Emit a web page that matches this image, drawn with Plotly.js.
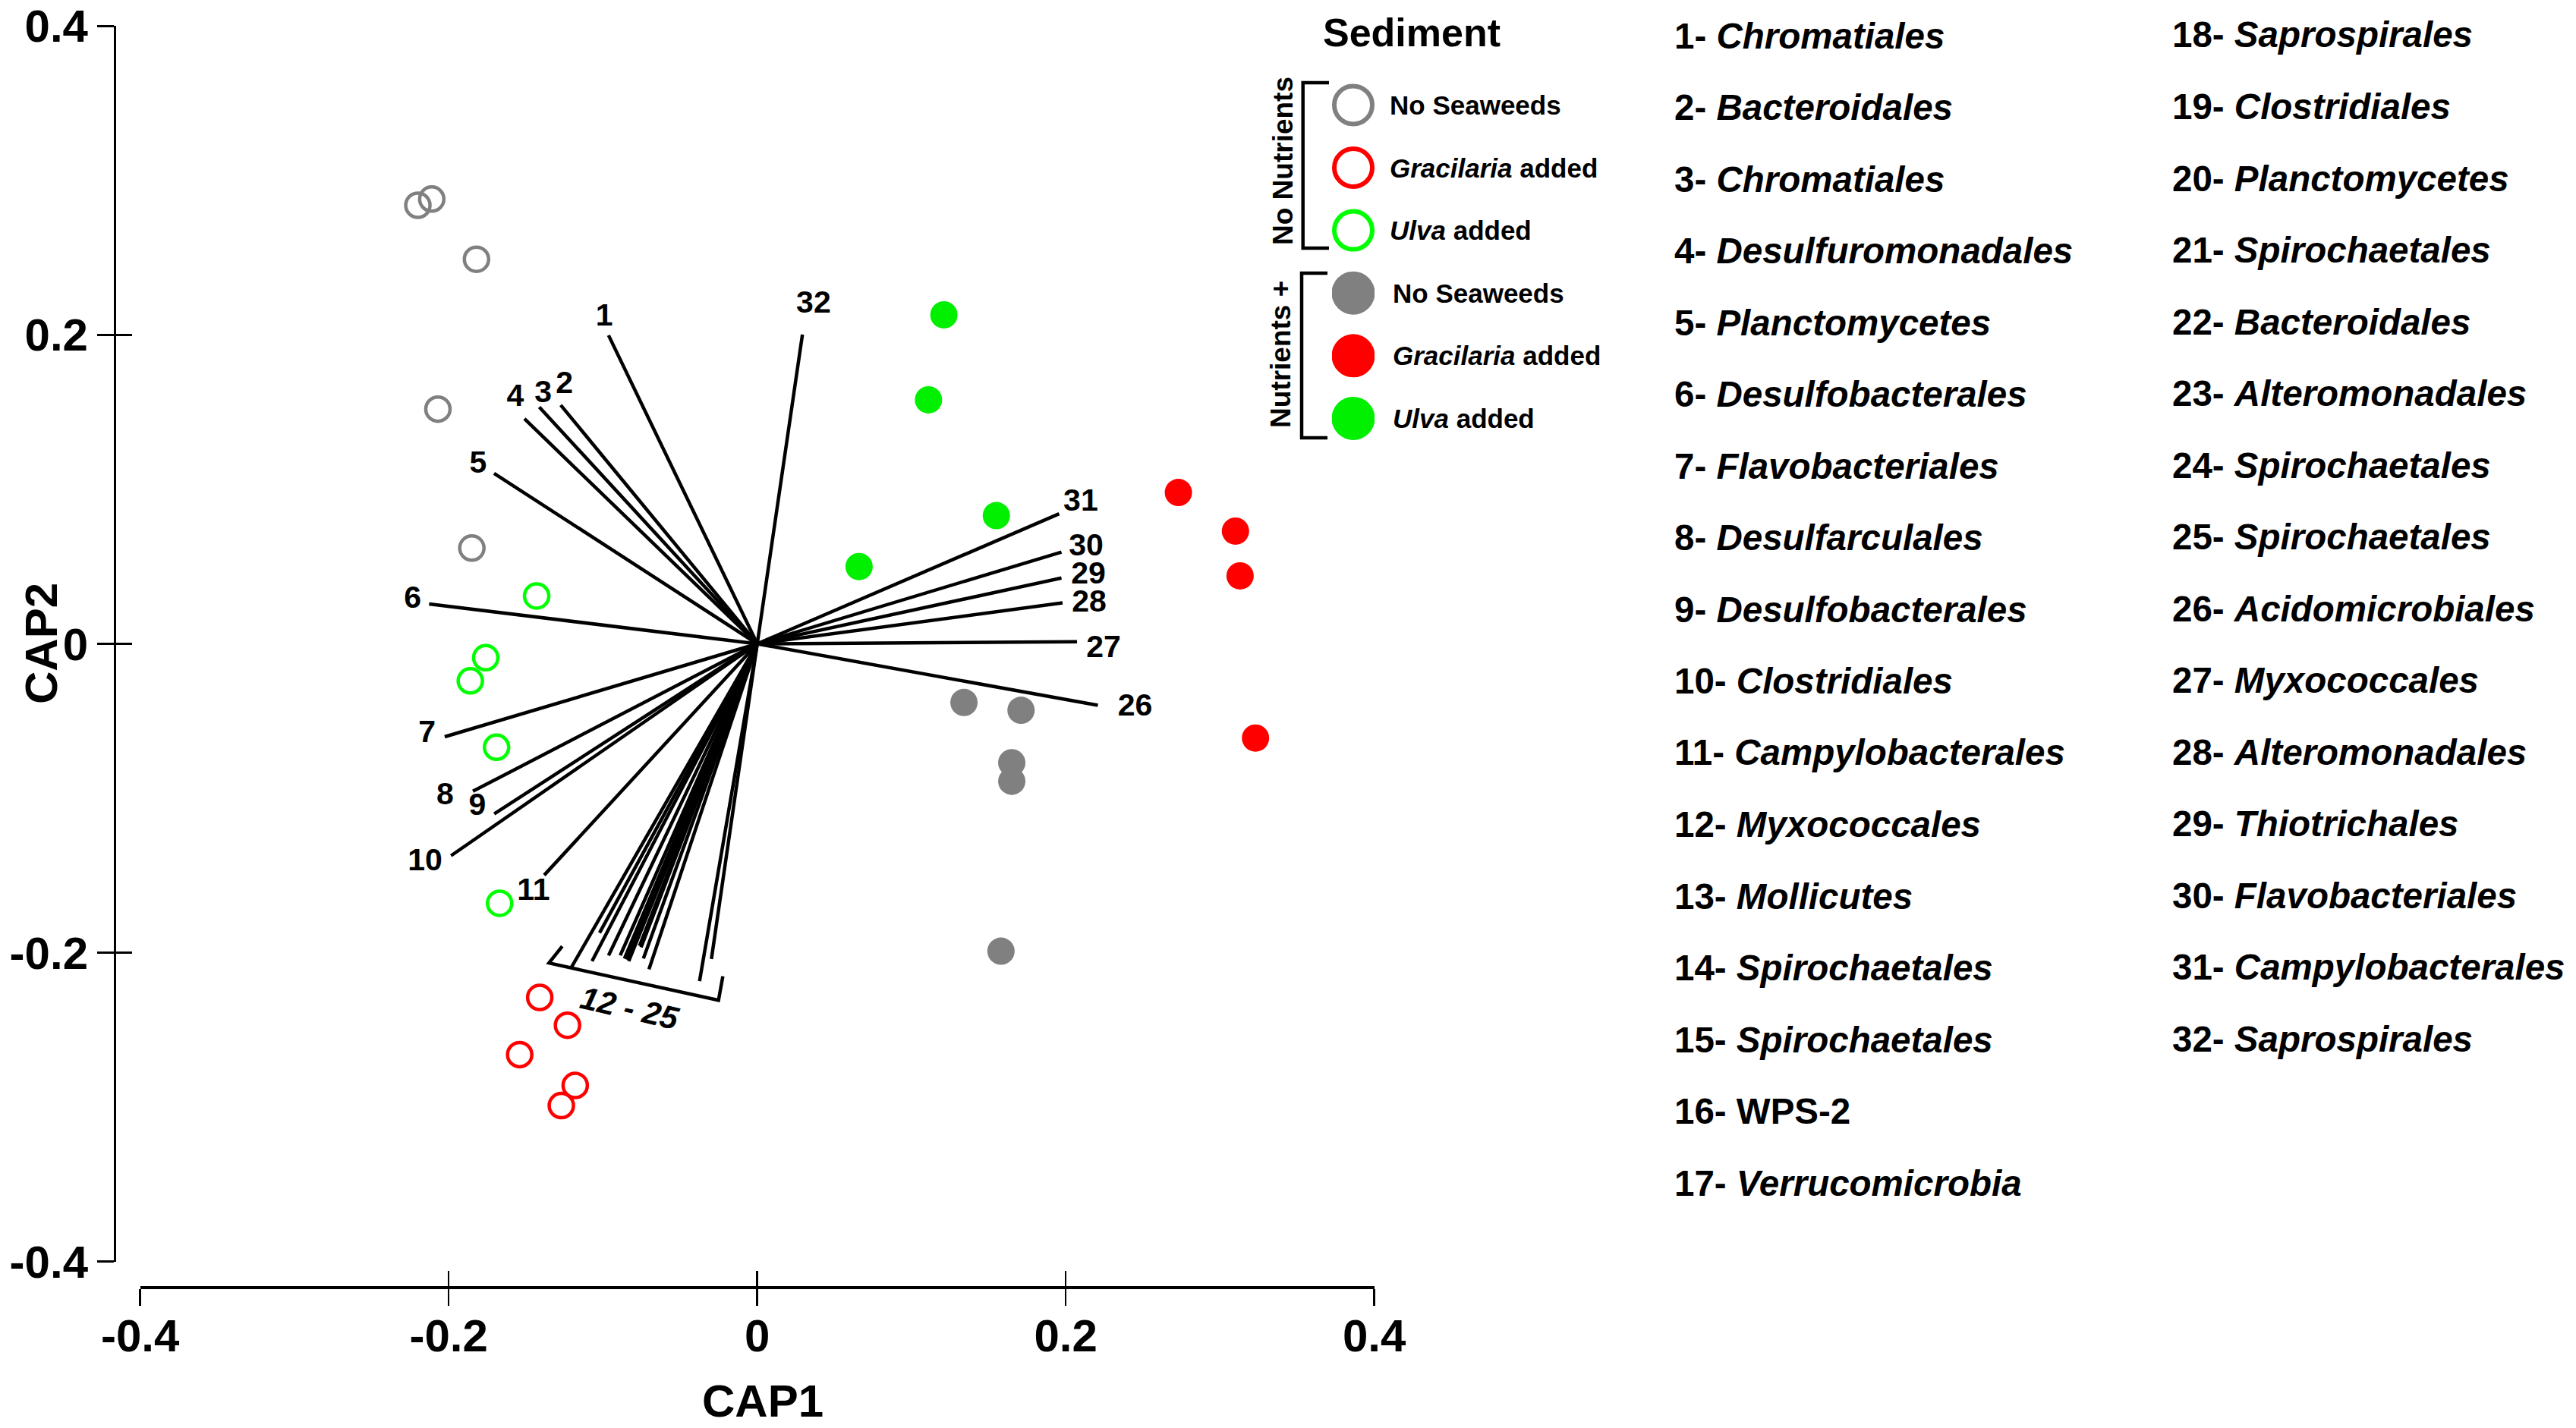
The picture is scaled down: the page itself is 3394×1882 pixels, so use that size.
<!DOCTYPE html>
<html><head><meta charset="utf-8">
<script src="https://cdn.plot.ly/plotly-3.0.1.min.js"></script>
<style>html,body{margin:0;padding:0;background:#fff}#chart{width:3394px;height:1882px}</style>
</head><body><div id="chart"></div>
<script>
// ---- sample scores (CAP1, CAP2) ----
const nnNoSeaweedX = [-0.220, -0.211, -0.182, -0.207, -0.185];
const nnNoSeaweedY = [0.284, 0.288, 0.249, 0.152, 0.062];
const nnGracX = [-0.141, -0.123, -0.154, -0.118, -0.127];
const nnGracY = [-0.229, -0.247, -0.266, -0.286, -0.299];
const nnUlvaX = [-0.143, -0.176, -0.186, -0.169, -0.167];
const nnUlvaY = [0.031, -0.009, -0.024, -0.067, -0.168];
const npNoSeaweedX = [0.134, 0.171, 0.165, 0.165, 0.158];
const npNoSeaweedY = [-0.038, -0.043, -0.077, -0.089, -0.199];
const npGracX = [0.273, 0.310, 0.313, 0.323];
const npGracY = [0.098, 0.073, 0.044, -0.061];
const npUlvaX = [0.121, 0.111, 0.155, 0.066];
const npUlvaY = [0.213, 0.158, 0.083, 0.050];

// ---- taxa vectors 1..32 (end points) ----
const vecX = [-0.0964, -0.1274, -0.1413, -0.1509, -0.1706, -0.2127, -0.2026, -0.1843, -0.1705, -0.1985, -0.1381,
  -0.1210, -0.1071, -0.1022, -0.0964, -0.0888, -0.0861, -0.0847, -0.0833, -0.0763, -0.0753, -0.0738, -0.0702, -0.0374, -0.0297,
  0.2208, 0.2073, 0.1979, 0.1972, 0.1972, 0.1957, 0.0293];
const vecY = [0.1998, 0.1546, 0.1533, 0.1457, 0.1104, 0.0258, -0.0602, -0.0955, -0.1101, -0.1372, -0.1498,
  -0.2104, -0.2055, -0.1871, -0.2018, -0.2018, -0.2038, -0.2045, -0.2055, -0.1956, -0.1965, -0.2038, -0.2108, -0.2185, -0.2041,
  -0.0398, 0.0013, 0.0265, 0.0426, 0.0594, 0.0842, 0.2003];

// ---- vector labels ----
const labText = ['1','2','3','4','5','6','7','8','9','10','11','26','27','28','29','30','31','32'];
const labX = [-0.0992, -0.1250, -0.1388, -0.1568, -0.1809, -0.2234, -0.2140, -0.2023, -0.1815, -0.2153, -0.1450,
  0.2449, 0.2245, 0.2152, 0.2147, 0.2132, 0.2097, 0.0365];
const labY = [0.2111, 0.1674, 0.1617, 0.1590, 0.1158, 0.0283, -0.0585, -0.0989, -0.1060, -0.1416, -0.1609,
  -0.0415, -0.0035, 0.0257, 0.0443, 0.0623, 0.0915, 0.2196];

// bracket for vectors 12-25
const bracketX = [-0.1264, -0.1350, -0.0251, -0.0223];
const bracketY = [-0.1959, -0.2067, -0.2308, -0.2153];
const bracketLabel = '12 - 25';
const bracketLabelX = -0.0829, bracketLabelY = -0.2356;

// ---- axes ----
const xTicks = [-0.4, -0.2, 0, 0.2, 0.4];
const xTickText = ['-0.4', '-0.2', '0', '0.2', '0.4'];
const yTicks = [-0.4, -0.2, 0, 0.2, 0.4];
const yTickText = ['-0.4', '-0.2', '0', '0.2', '0.4'];
const xTitle = 'CAP1', yTitle = 'CAP2';

// ---- legend ----
const legendTitle = 'Sediment';
const legendGroups = ['No Nutrients', 'Nutrients +'];
const legendLabels = ['No Seaweeds', '<i>Gracilaria</i> added', '<i>Ulva</i> added',
                      'No Seaweeds', '<i>Gracilaria</i> added', '<i>Ulva</i> added'];

// ---- taxa list ----
const taxaCol1 = ['Chromatiales','Bacteroidales','Chromatiales','Desulfuromonadales','Planctomycetes',
  'Desulfobacterales','Flavobacteriales','Desulfarculales','Desulfobacterales','Clostridiales',
  'Campylobacterales','Myxococcales','Mollicutes','Spirochaetales','Spirochaetales','WPS-2','Verrucomicrobia'];
const taxaCol2 = ['Saprospirales','Clostridiales','Planctomycetes','Spirochaetales','Bacteroidales',
  'Alteromonadales','Spirochaetales','Spirochaetales','Acidomicrobiales','Myxococcales','Alteromonadales',
  'Thiotrichales','Flavobacteriales','Campylobacterales','Saprospirales'];
const uprightTaxa = ['WPS-2'];

// ================= build =================
const W = 3394, H = 1882;
const FONT = 'Liberation Sans, Arial, Helvetica, sans-serif';
const GREY = '#808080', RED = '#ff0000', GREEN = '#00ff00', GREENF = '#00f000';
const px = v => v / W, py = v => 1 - v / H;

const vx = [], vy = [];
vecX.forEach((x, i) => { vx.push(0, x, null); vy.push(0, vecY[i], null); });

const openM = c => ({symbol: 'circle-open', size: 32, color: c, opacity: 1, line: {width: 4.5, color: c}});
const fillM = c => ({symbol: 'circle', size: 36, color: c, opacity: 1, line: {width: 0}});

const traces = [
  {type: 'scatter', mode: 'lines', x: vx, y: vy, line: {color: '#000', width: 4.5}, hoverinfo: 'skip', name: 'vectors'},
  {type: 'scatter', mode: 'lines', x: bracketX, y: bracketY, line: {color: '#000', width: 4.5}, hoverinfo: 'skip', name: 'bracket'},
  {type: 'scatter', mode: 'text', x: labX, y: labY, text: labText, textposition: 'middle center',
   textfont: {family: FONT, size: 41, color: '#000', weight: 'bold'}, hoverinfo: 'skip', name: 'labels'},
  {type: 'scatter', mode: 'markers', name: 'No Nutrients - No Seaweeds', x: nnNoSeaweedX, y: nnNoSeaweedY, marker: openM(GREY)},
  {type: 'scatter', mode: 'markers', name: 'No Nutrients - Gracilaria added', x: nnGracX, y: nnGracY, marker: openM(RED)},
  {type: 'scatter', mode: 'markers', name: 'No Nutrients - Ulva added', x: nnUlvaX, y: nnUlvaY, marker: openM(GREEN)},
  {type: 'scatter', mode: 'markers', name: 'Nutrients + - No Seaweeds', x: npNoSeaweedX, y: npNoSeaweedY, marker: fillM(GREY)},
  {type: 'scatter', mode: 'markers', name: 'Nutrients + - Gracilaria added', x: npGracX, y: npGracY, marker: fillM(RED)},
  {type: 'scatter', mode: 'markers', name: 'Nutrients + - Ulva added', x: npUlvaX, y: npUlvaY, marker: fillM(GREENF)},
  // overlay axes for inner half of crossing ticks
  {type: 'scatter', mode: 'markers', x: [], y: [], xaxis: 'x2', yaxis: 'y2', hoverinfo: 'skip', showlegend: false},
  // custom legend symbols
  {type: 'scatter', mode: 'markers', xaxis: 'x3', yaxis: 'y3', hoverinfo: 'skip',
   x: legendLabels.map(() => 0), y: legendLabels.map((_, i) => i),
   marker: {
     opacity: 1,
     symbol: ['circle-open','circle-open','circle-open','circle','circle','circle'],
     size: [50, 50, 50, 57, 57, 57],
     color: [GREY, RED, GREEN, GREY, RED, GREENF],
     line: {width: [6, 6, 6, 0, 0, 0], color: [GREY, RED, GREEN, GREY, RED, GREENF]}
   }}
];

const xPos = py(1697), yPos = px(151);
const tickFont = {family: FONT, size: 60, color: '#000', weight: 'bold'};
const common = {showgrid: false, zeroline: false, fixedrange: true, tickcolor: '#000', tickwidth: 2.5, ticklen: 22};

const annotations = [];
const ann = (o) => annotations.push(Object.assign({showarrow: false, font: {family: FONT, color: '#000', size: 42, weight: 'bold'}}, o));

ann({text: xTitle, xref: 'paper', yref: 'paper', x: px(1005), y: py(1846), xanchor: 'center', yanchor: 'middle',
     font: {family: FONT, size: 60, color: '#000', weight: 'bold'}});
ann({text: yTitle, xref: 'paper', yref: 'paper', x: px(54), y: py(848), xanchor: 'center', yanchor: 'middle', textangle: -90,
     font: {family: FONT, size: 60, color: '#000', weight: 'bold'}});
ann({text: '<i>' + bracketLabel + '</i>', xref: 'x', yref: 'y', x: bracketLabelX, y: bracketLabelY, textangle: 13,
     xanchor: 'center', yanchor: 'middle', font: {family: FONT, size: 42, color: '#000', weight: 'bold'}});

// legend text
ann({text: legendTitle, xref: 'paper', yref: 'paper', x: px(1860), y: py(43), xanchor: 'center', yanchor: 'middle',
     font: {family: FONT, size: 52, color: '#000', weight: 'bold'}});
const legTop = 138.4, legStep = 82.6;
legendLabels.forEach((t, i) => ann({text: t, xref: 'paper', yref: 'paper', x: px(i < 3 ? 1829 : 1833), y: py(legTop + i * legStep),
  xanchor: 'left', yanchor: 'middle', font: {family: FONT, size: 35, color: '#000', weight: 'bold'}}));
ann({text: legendGroups[0], xref: 'paper', yref: 'paper', x: px(1690), y: py(212), textangle: -90, xanchor: 'center', yanchor: 'middle',
     font: {family: FONT, size: 37, color: '#000', weight: 'bold'}});
ann({text: legendGroups[1], xref: 'paper', yref: 'paper', x: px(1688), y: py(467), textangle: -90, xanchor: 'center', yanchor: 'middle',
     font: {family: FONT, size: 37, color: '#000', weight: 'bold'}});

// taxa list
const rowTop = 47, rowStep = 94.5;
const taxonText = (n, name) => n + '- ' + (uprightTaxa.includes(name) ? name : '<i>' + name + '</i>');
taxaCol1.forEach((name, i) => ann({text: taxonText(i + 1, name), xref: 'paper', yref: 'paper', x: px(2204), y: py(rowTop + i * rowStep),
  xanchor: 'left', yanchor: 'middle', font: {family: FONT, size: 47.5, color: '#000', weight: 'bold'}}));
taxaCol2.forEach((name, i) => ann({text: taxonText(i + 1 + taxaCol1.length, name), xref: 'paper', yref: 'paper', x: px(2860), y: py(rowTop - 1 + i * rowStep),
  xanchor: 'left', yanchor: 'middle', font: {family: FONT, size: 47.5, color: '#000', weight: 'bold'}}));

// legend brackets
const bracketPath = (x, x2, y1, y2) => `M ${px(x2)} ${py(y1)} L ${px(x)} ${py(y1)} L ${px(x)} ${py(y2)} L ${px(x2)} ${py(y2)}`;
const shapes = [
  {type: 'path', xref: 'paper', yref: 'paper', path: bracketPath(1716.7, 1751, 109, 327), line: {color: '#000', width: 4.5}},
  {type: 'path', xref: 'paper', yref: 'paper', path: bracketPath(1715, 1749, 360, 577), line: {color: '#000', width: 4.5}}
];

const layout = {
  width: W, height: H,
  margin: {l: 0, r: 0, t: 0, b: 0, pad: 0},
  paper_bgcolor: '#fff', plot_bgcolor: 'rgba(0,0,0,0)',
  showlegend: false,
  font: {family: FONT, color: '#000'},
  xaxis: Object.assign({}, common, {domain: [px(184.7), px(1810.7)], range: [-0.4, 0.4], anchor: 'free', position: xPos,
    showline: true, linewidth: 4, linecolor: '#000', ticks: 'outside', tickvals: xTicks, ticktext: xTickText, tickfont: tickFont,
    ticklabelstandoff: -12}),
  xaxis2: Object.assign({}, common, {overlaying: 'x', anchor: 'free', position: xPos, range: [-0.4, 0.4], ticks: 'inside',
    tickvals: xTicks, showticklabels: false, showline: false}),
  yaxis: Object.assign({}, common, {domain: [py(1662.6), py(34.4)], range: [-0.4, 0.4], anchor: 'free', position: yPos,
    showline: true, linewidth: 2.5, linecolor: '#000', ticks: 'outside', tickvals: yTicks, ticktext: yTickText, tickfont: tickFont}),
  yaxis2: Object.assign({}, common, {overlaying: 'y', anchor: 'free', position: yPos, range: [-0.4, 0.4], ticks: 'inside',
    tickvals: yTicks, showticklabels: false, showline: false}),
  xaxis3: {domain: [px(1755), px(1811)], range: [-1, 1], visible: false, anchor: 'y3', fixedrange: true},
  yaxis3: {domain: [py(legTop + 5.5 * legStep), py(legTop - 0.5 * legStep)], range: [5.5, -0.5], visible: false, anchor: 'x3', fixedrange: true},
  annotations: annotations,
  shapes: shapes
};

Plotly.newPlot('chart', traces, layout, {staticPlot: true, displayModeBar: false});
</script></body></html>
